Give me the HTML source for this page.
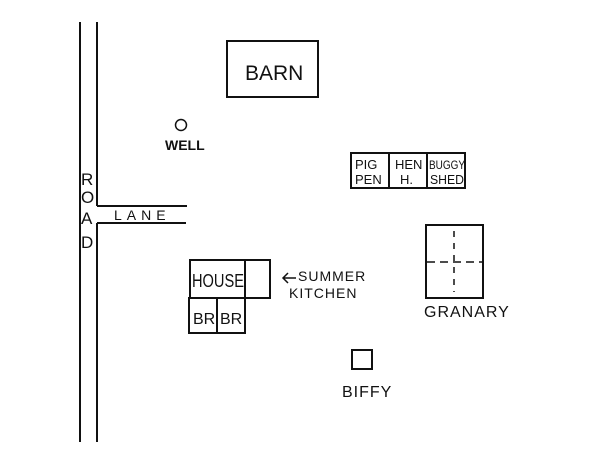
<!DOCTYPE html>
<html><head><meta charset="utf-8"><style>
html,body{margin:0;padding:0;background:#fff;}
svg{display:block}
text{font-family:"Liberation Sans",sans-serif;fill:#111;}
</style></head><body>
<svg width="600" height="450" viewBox="0 0 600 450" xmlns="http://www.w3.org/2000/svg">
<g stroke="#111" stroke-width="2" fill="none">
<line x1="80" y1="22" x2="80" y2="442"/>
<line x1="97" y1="22" x2="97" y2="206"/>
<line x1="97" y1="223" x2="97" y2="442"/>
<line x1="97" y1="206" x2="187" y2="206"/>
<line x1="97" y1="223" x2="186" y2="223"/>
<rect x="227" y="41" width="91" height="56"/>
<circle cx="181" cy="125" r="5.5" stroke-width="1.5"/>
<rect x="351" y="153" width="114" height="35"/>
<line x1="389" y1="153" x2="389" y2="188"/>
<line x1="427" y1="153" x2="427" y2="188"/>
<rect x="426" y="225" width="57" height="73"/>
<line x1="454" y1="231" x2="454" y2="292" stroke-dasharray="6,6" stroke-width="1.5"/>
<line x1="427" y1="262" x2="482" y2="262" stroke-dasharray="8,5" stroke-width="1.5"/>
<rect x="190" y="260" width="80" height="38"/>
<line x1="245" y1="260" x2="245" y2="333"/>
<rect x="189" y="298" width="56" height="35"/>
<line x1="217" y1="298" x2="217" y2="333"/>
<rect x="352" y="350" width="20" height="19"/>
<path d="M284 278 L296 278 M288 273 L283 278 L288 283" stroke-width="1.5"/>
</g>
<g>
<text x="245" y="80" font-size="21">BARN</text>
<text x="165" y="150" font-size="14" font-weight="bold">WELL</text>
<text x="81" y="185" font-size="17">R</text>
<text x="81" y="203" font-size="17">O</text>
<text x="81" y="224" font-size="17">A</text>
<text x="81" y="248" font-size="17">D</text>
<text x="114" y="220" font-size="14" letter-spacing="5">LANE</text>
<text x="355" y="169" font-size="13">PIG</text>
<text x="355" y="184" font-size="13">PEN</text>
<text x="395" y="169" font-size="13">HEN</text>
<text x="400" y="184" font-size="13">H.</text>
<text x="429" y="169" font-size="12" textLength="36" lengthAdjust="spacingAndGlyphs">BUGGY</text>
<text x="430" y="184" font-size="13" textLength="34" lengthAdjust="spacingAndGlyphs">SHED</text>
<text x="192" y="287" font-size="18" textLength="52" lengthAdjust="spacingAndGlyphs">HOUSE</text>
<text x="193" y="324" font-size="16">BR</text>
<text x="220" y="324" font-size="16">BR</text>
<text x="298" y="281" font-size="14" letter-spacing="1">SUMMER</text>
<text x="289" y="298" font-size="14" letter-spacing="1">KITCHEN</text>
<text x="424" y="317" font-size="16" letter-spacing="1">GRANARY</text>
<text x="342" y="397" font-size="16" letter-spacing="1">BIFFY</text>
</g>
</svg>
</body></html>
